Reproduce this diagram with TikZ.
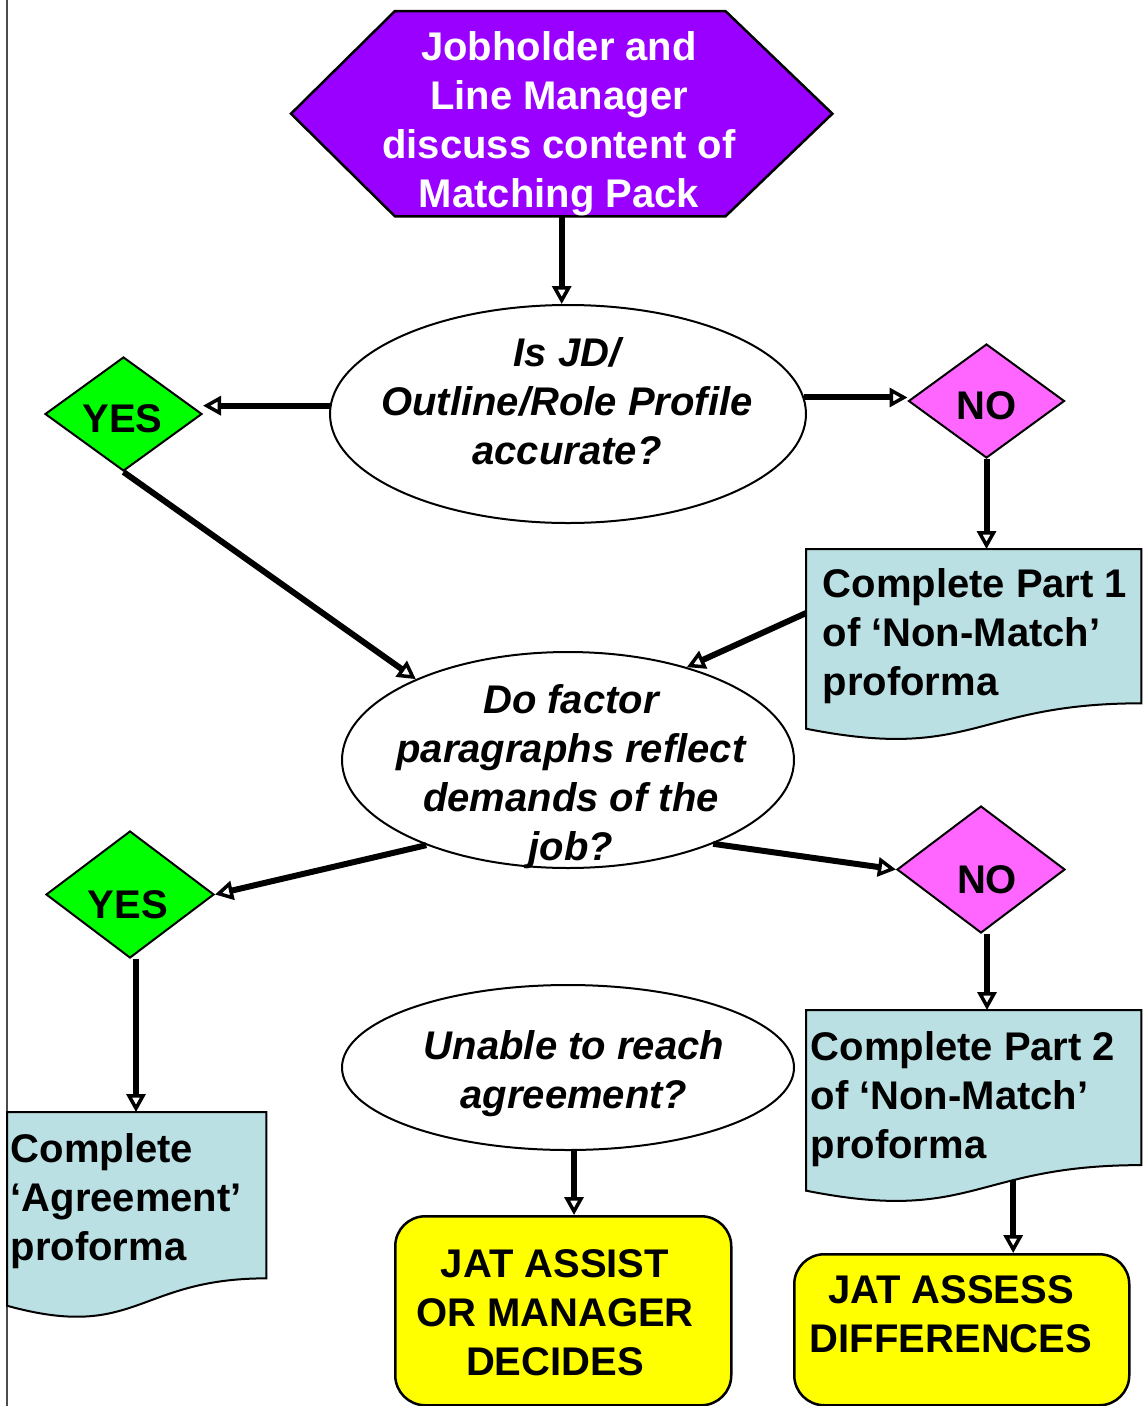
\documentclass[tikz,border=0pt]{standalone}
\usepackage{fontspec}
\setmainfont{Liberation Sans}
\usetikzlibrary{shapes.geometric,arrows.meta,calc}

\definecolor{hexpurple}{HTML}{9900FF}
\definecolor{yesgreen}{HTML}{00FF00}
\definecolor{nopink}{HTML}{FF66FF}
\definecolor{docblue}{HTML}{BBE0E3}
\definecolor{boxyellow}{HTML}{FFFF00}

% wavy-bottomed document outline drawn round a frame node
\newcommand{\docoutline}[1]{%
  \filldraw[docline] (#1.north west) -- (#1.north east)
    -- ($(#1.north east)!0.802!(#1.south east)$)
    .. controls ($(#1.north)!0.802!(#1.south)$) and ($(#1.north)!1.107!(#1.south)$)
    .. ($(#1.north west)!0.934!(#1.south west)$) -- cycle;}

\begin{document}
\begin{tikzpicture}[x=1pt,y=-1pt,
  frame/.style={draw=none,rectangle,inner sep=0pt,anchor=north west},
  docline/.style={draw=black,line width=2pt,fill=docblue},
  decision/.style={ellipse,draw=black,line width=2pt,fill=white,inner sep=0pt},
  answer/.style={diamond,draw=black,line width=2pt,inner sep=0pt},
  outcome/.style={rectangle,rounded corners=30pt,draw=black,line width=2.5pt,
    fill=boxyellow,inner sep=0pt,anchor=north west},
  label/.style={inner sep=0pt,anchor=base,align=center,
    font=\fontsize{40}{49}\selectfont\bfseries},
  question/.style={label,font=\fontsize{40}{49}\selectfont\bfseries\itshape},
  doclabel/.style={label,anchor=base west,align=left},
  conn/.style={line width=6pt,
    -{Triangle[open,length=18pt,width=19pt,line width=3.5pt]}},
]
\useasboundingbox (0,0) rectangle (1143,1406);

% page edge rule
\draw[line width=1.5pt,black!70] (7,0) -- (7,1406);

% start: hexagon (labels below are placed by the baseline of their last line)
\node[frame,minimum width=541pt,minimum height=205pt] (hex) at (291,11) {};
\filldraw[draw=black,line width=2.5pt,fill=hexpurple]
  (hex.west) -- ([xshift=104pt]hex.north west) -- ([xshift=-107pt]hex.north east)
  -- (hex.east) -- ([xshift=-107pt]hex.south east) -- ([xshift=104pt]hex.south west) -- cycle;
\node[label,text=white] (hext) at (559,207)
  {Jobholder and\\Line Manager\\discuss content of\\Matching Pack};

% decisions
\node[decision,minimum width=476pt,minimum height=218pt] (ell1) at (568,414) {};
\node[question] (ell1t) at (567,464) {Is JD/\\Outline/Role Profile\\accurate?};

\node[decision,minimum width=452pt,minimum height=216pt] (ell2) at (568,760) {};
\node[question] (ell2t) at (571,860)
  {Do factor\\paragraphs reflect\\demands of the\\job?};

\node[decision,minimum width=452pt,minimum height=165pt] (ell3) at (568,1067.5) {};
\node[question] (ell3t) at (574,1108) {Unable to reach\\agreement?};

% answers
\node[answer,fill=yesgreen,minimum width=157pt,minimum height=114pt] (yes1) at (123.5,414) {};
\node[label] (yes1t) at (122.5,432) {YES};
\node[answer,fill=nopink,minimum width=156pt,minimum height=114pt] (no1) at (986.5,401) {};
\node[label] (no1t) at (986.5,419) {NO};
\node[answer,fill=yesgreen,minimum width=168pt,minimum height=127pt] (yes2) at (130,894.5) {};
\node[label] (yes2t) at (128,918) {YES};
\node[answer,fill=nopink,minimum width=168pt,minimum height=127pt] (no2) at (981,869.5) {};
\node[label] (no2t) at (987,893) {NO};

% documents
\node[frame,minimum width=335pt,minimum height=192pt] (doc1) at (806,549) {};
\docoutline{doc1}
\node[doclabel] (doc1t) at (822.5,695) {Complete Part 1\\of ‘Non-Match’\\proforma};

\node[frame,minimum width=335pt,minimum height=193pt] (doc2) at (806,1010) {};
\docoutline{doc2}
\node[doclabel] (doc2t) at (810.5,1158) {Complete Part 2\\of ‘Non-Match’\\proforma};

\node[frame,minimum width=259pt,minimum height=207pt] (doc3) at (7,1112) {};
\docoutline{doc3}
\node[doclabel] (doc3t) at (10.5,1260) {Complete\\‘Agreement’\\proforma};

% outcomes
\node[outcome,minimum width=336pt,minimum height=189pt] (assist) at (394,1215) {};
\node[label] (assistt) at (555,1375) {JAT ASSIST\\OR MANAGER\\DECIDES};
\node[outcome,minimum width=335pt,minimum height=151pt] (assess) at (793,1253) {};
\node[label] (assesst) at (951,1352) {JAT ASSESS\\DIFFERENCES};

% connector end points
\coordinate (d1out) at ($(doc1.north west)!0.333!(doc1.south west)$);
\coordinate (d2out) at ($(doc2.north)!0.88!(doc2.south)+(39.5,0)$);
\coordinate (n2out) at ([xshift=6pt]no2.south);
\coordinate (y2out) at ([xshift=6pt]yes2.south);
\coordinate (e3out) at ([xshift=6pt]ell3.south);

% connectors
\draw[conn] (hex.south) -- (hex.south |- ell1.north);
\draw[conn] (ell1.178.5) -- (ell1.178.5 -| yes1.east);
\draw[conn] (ell1.4.6) -- (ell1.4.6 -| no1.west);
\draw[conn] (no1.south) -- (no1.south |- doc1.north);
\draw[conn] (yes1.south) -- (ell2.152);
\draw[conn] (d1out) -- (ell2.38);
\draw[conn] (ell2.211.6) -- (yes2.east);
\draw[conn] (ell2.330) -- (no2.west);
\draw[conn] (n2out) -- (n2out |- doc2.north);
\draw[conn] (y2out) -- (y2out |- doc3.north);
\draw[conn] (e3out) -- (e3out |- assist.north);
\draw[conn] (d2out) -- (d2out |- assess.north);
\end{tikzpicture}
\end{document}
